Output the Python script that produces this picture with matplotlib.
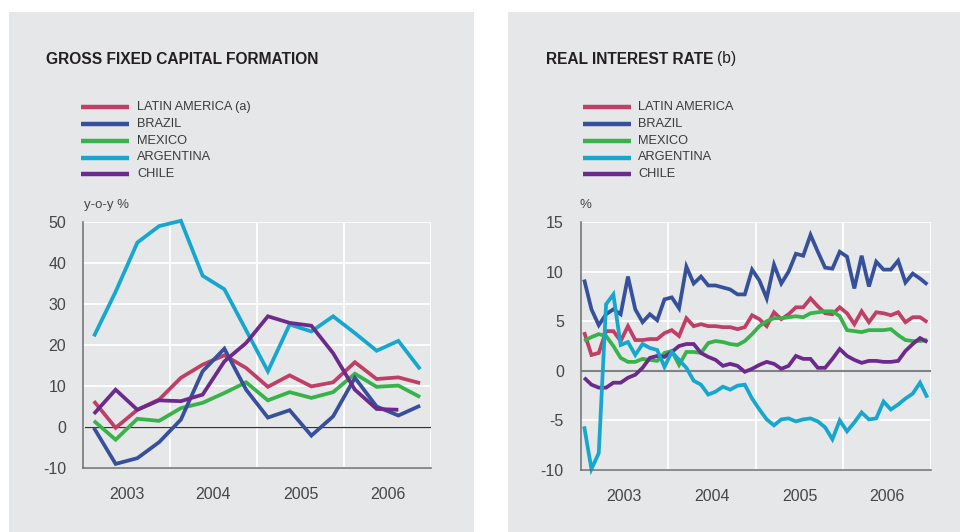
import matplotlib
matplotlib.use("Agg")
import matplotlib.pyplot as plt
from matplotlib.patches import Rectangle
from matplotlib.lines import Line2D

plt.rcParams['font.family'] = ['Liberation Sans', 'DejaVu Sans']

# ---------------- data ----------------
years = [2003, 2004, 2005, 2006]
year_labels = ["2003", "2004", "2005", "2006"]

# Gross fixed capital formation, quarterly, y-o-y %  (2003Q1 .. 2006Q4)
gfcf_quarters = [f"{y}Q{q}" for y in years for q in range(1, 5)]
gfcf_latam = [6.3, -0.2, 4.2, 6.7, 12.0, 15.2, 17.5, 14.4, 9.8, 12.6, 9.9, 10.9, 15.8, 11.7, 12.1, 10.7]
gfcf_brazil = [-0.2, -9.0, -7.6, -3.7, 1.8, 13.6, 19.1, 9.1, 2.3, 4.1, -2.1, 2.6, 12.0, 5.0, 2.8, 5.2]
gfcf_mexico = [1.5, -3.1, 2.0, 1.5, 4.6, 5.9, 8.3, 10.9, 6.5, 8.5, 7.1, 8.5, 13.0, 9.8, 10.1, 7.3]
gfcf_argentina = [22.1, 33.0, 45.0, 49.0, 50.3, 36.9, 33.6, 23.6, 13.6, 25.0, 23.3, 27.0, 22.9, 18.6, 21.0, 14.1]
gfcf_chile = [3.2, 9.1, 4.2, 6.5, 6.3, 7.9, 16.0, 20.5, 27.0, 25.4, 24.7, 18.0, 9.1, 4.4, 4.2]

# Real interest rate, monthly, %  (2003-01 .. 2006-12)
rir_months = [f"{y}-{m:02d}" for y in years for m in range(1, 13)]
rir_latam = [3.9, 1.6, 1.8, 4.0, 4.0, 3.0, 4.5, 3.1, 3.1, 3.2, 3.2, 3.8,
             4.1, 3.5, 5.3, 4.5, 4.7, 4.5, 4.5, 4.4, 4.4, 4.2, 4.4, 5.6,
             5.2, 4.5, 5.9, 5.2, 5.7, 6.4, 6.4, 7.3, 6.5, 5.8, 5.7, 6.4,
             5.8, 4.7, 6.0, 4.9, 5.9, 5.8, 5.6, 5.9, 4.9, 5.4, 5.4, 4.9]
rir_brazil = [9.2, 6.2, 4.6, 5.7, 6.2, 5.7, 9.5, 6.2, 4.9, 5.7, 5.1, 7.2,
              7.4, 6.3, 10.5, 8.8, 9.5, 8.6, 8.6, 8.4, 8.2, 7.7, 7.7, 10.2,
              9.1, 7.3, 10.7, 8.8, 10.0, 11.8, 11.6, 13.7, 12.0, 10.4, 10.3, 12.0,
              11.5, 8.3, 11.6, 8.5, 11.0, 10.2, 10.2, 11.1, 8.9, 9.8, 9.3, 8.7]
rir_mexico = [3.0, 3.4, 3.7, 3.5, 2.5, 1.3, 0.9, 0.9, 1.2, 1.1, 1.0, 1.8,
              2.0, 0.6, 1.9, 1.9, 1.8, 2.8, 3.0, 2.9, 2.7, 2.6, 3.0, 3.7,
              4.5, 5.0, 5.3, 5.3, 5.4, 5.5, 5.4, 5.8, 5.9, 6.0, 6.0, 5.5,
              4.1, 4.0, 3.9, 4.1, 4.1, 4.1, 4.2, 3.6, 3.1, 3.0, 3.0, 3.1]
rir_argentina = [-5.6, -9.9, -8.3, 6.7, 7.7, 2.6, 2.9, 1.6, 2.7, 2.3, 2.1, 0.4,
                 1.9, 1.1, 0.3, -1.0, -1.4, -2.4, -2.1, -1.6, -1.9, -1.5, -1.4, -2.8,
                 -3.9, -4.9, -5.5, -4.9, -4.8, -5.1, -4.9, -4.8, -5.1, -5.7, -6.9, -5.0,
                 -6.1, -5.2, -4.2, -4.9, -4.8, -3.1, -3.9, -3.4, -2.8, -2.3, -1.2, -2.7]
rir_chile = [-0.7, -1.4, -1.7, -1.7, -1.2, -1.2, -0.7, -0.4, 0.3, 1.3, 1.5, 1.4,
             1.9, 2.5, 2.7, 2.7, 1.8, 1.4, 1.1, 0.5, 0.7, 0.5, -0.1, 0.2,
             0.6, 0.9, 0.7, 0.2, 0.5, 1.5, 1.2, 1.2, 0.3, 0.3, 1.2, 2.2,
             1.5, 1.1, 0.8, 1.0, 1.0, 0.9, 0.9, 1.0, 2.0, 2.7, 3.3, 2.9]

left_names = ["LATIN AMERICA (a)", "BRAZIL", "MEXICO", "ARGENTINA", "CHILE"]
right_names = ["LATIN AMERICA", "BRAZIL", "MEXICO", "ARGENTINA", "CHILE"]
colors = ["#bf3f66", "#36509c", "#37b34a", "#15a7cf", "#6b2a8c"]

# ---------------- helpers ----------------
def quarter_pos(label):
    y, q = label.split("Q")
    return int(y) + (int(q) - 0.5) / 4.0

def month_pos(label):
    y, m = label.split("-")
    return int(y) + (int(m) - 0.5) / 12.0

BG = "#e6e7e8"
TXT = "#231f20"
TICK = "#464646"

fig = plt.figure(figsize=(9.6, 5.32), dpi=100)
fig.patch.set_facecolor("white")
W, H = 960.0, 532.0

def px(x0, y0, x1, y1):
    return [x0 / W, 1 - y1 / H, (x1 - x0) / W, (y1 - y0) / H]

fig.patches.append(Rectangle((9 / W, 0), (474 - 9) / W, 1 - 12 / H,
                             transform=fig.transFigure, facecolor=BG, edgecolor="none", zorder=-5))
fig.patches.append(Rectangle((508 / W, 0), (960 - 508) / W, 1 - 12 / H,
                             transform=fig.transFigure, facecolor=BG, edgecolor="none", zorder=-5))

def style_axes(ax, ylim, yticks, zero_color, zero_lw):
    ax.set_facecolor("none")
    ax.set_xlim(2003, 2007)
    ax.set_ylim(*ylim)
    ax.set_yticks(yticks)
    ax.set_yticklabels([str(t) for t in yticks])
    ax.set_xticks([2004, 2005, 2006, 2007])
    ax.set_xticklabels([])
    ax.set_xticks([y + 0.5 for y in years], minor=True)
    ax.set_xticklabels(year_labels, minor=True)
    ax.tick_params(axis="x", which="both", length=0)
    ax.tick_params(axis="x", which="minor", pad=14, labelsize=11.5, labelcolor=TICK)
    ax.tick_params(axis="y", length=0, pad=12, labelsize=11.5, labelcolor=TICK)
    ax.grid(True, which="major", color="white", lw=1.3)
    ax.set_axisbelow(True)
    for s in ["top", "right"]:
        ax.spines[s].set_visible(False)
    for s in ["left", "bottom"]:
        ax.spines[s].set_color("#6d6e70")
        ax.spines[s].set_linewidth(1.1)
        ax.spines[s].set_zorder(5)
    ax.axhline(0, color=zero_color, lw=zero_lw, zorder=2, xmin=0.005)

# ---------------- left chart ----------------
axL = fig.add_axes(px(83, 222, 431, 468))
style_axes(axL, (-10, 50), [-10, 0, 10, 20, 30, 40, 50], "#333333", 0.9)
qx = [quarter_pos(q) for q in gfcf_quarters]
left_series = [gfcf_latam, gfcf_brazil, gfcf_mexico, gfcf_argentina, gfcf_chile]
order = [3, 0, 2, 1, 4]
for i in order:
    s = left_series[i]
    axL.plot(qx[:len(s)], s, color=colors[i], lw=2.7, solid_joinstyle="miter",
             solid_capstyle="butt", zorder=3, clip_on=False)

# ---------------- right chart ----------------
axR = fig.add_axes(px(580.5, 222, 931, 470))
style_axes(axR, (-10, 15), [-10, -5, 0, 5, 10, 15], "#808285", 1.5)
mx = [month_pos(m) for m in rir_months]
right_series = [rir_latam, rir_brazil, rir_mexico, rir_argentina, rir_chile]
order_r = [0, 1, 2, 4, 3]
for i in order_r:
    s = right_series[i]
    axR.plot(mx[:len(s)], s, color=colors[i], lw=2.7, solid_joinstyle="miter",
             solid_capstyle="butt", zorder=3, clip_on=False)

# ---------------- titles, units ----------------
fig.text(46 / W, 1 - 59 / H, "GROSS FIXED CAPITAL FORMATION", fontsize=11.2,
         fontweight="bold", color=TXT, va="center", ha="left")
t = fig.text(546 / W, 1 - 59 / H, "REAL INTEREST RATE", fontsize=11.2,
             fontweight="bold", color=TXT, va="center", ha="left")
fig.canvas.draw()
bb = t.get_window_extent(renderer=fig.canvas.get_renderer())
fig.text((bb.x1 + 4) / W, 1 - 59 / H, "(b)", fontsize=11.2, color=TXT,
         va="center", ha="left")

fig.text(84 / W, 1 - 205 / H, "y-o-y %", fontsize=9.5, color=TICK, va="center", ha="left")
fig.text(580 / W, 1 - 205 / H, "%", fontsize=9.5, color=TICK, va="center", ha="left")

# ---------------- legends ----------------
leg_y = [107, 124, 141, 157.5, 174]
for names, lx0, lx1, tx in [(left_names, 81, 129, 137), (right_names, 583, 631, 638)]:
    for k, name in enumerate(names):
        y = 1 - leg_y[k] / H
        fig.add_artist(Line2D([lx0 / W, lx1 / W], [y, y], transform=fig.transFigure,
                              color=colors[k], lw=3.2, solid_capstyle="butt"))
        fig.text(tx / W, y, name, fontsize=9.2, color="#3a3a3a", va="center", ha="left")

fig.savefig("out.png", dpi=100, facecolor="white")
